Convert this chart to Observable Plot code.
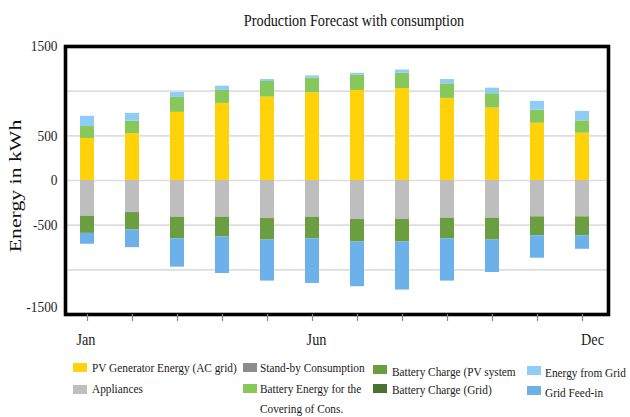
<!DOCTYPE html>
<html>
<head>
<meta charset="utf-8">
<script src="https://cdn.jsdelivr.net/npm/d3@7"></script>
<script src="https://cdn.jsdelivr.net/npm/@observablehq/plot@0.6"></script>
<style>
  html, body { margin: 0; padding: 0; background: #fff; }
  #wrap { position: relative; width: 630px; height: 417px; overflow: hidden; font-family: "Liberation Serif", "Times New Roman", serif; color: #111; }
  #chart { position: absolute; left: 0; top: 0; }
  .abs { position: absolute; white-space: nowrap; }
  .sq { display: inline-block; transform-origin: 0 50%; }
  .sw { position: absolute; width: 14px; height: 9px; }
  .lg { position: absolute; font-size: 13px; line-height: 16px; white-space: nowrap; color: #1a1a1a; }
  .lg span { display: inline-block; transform: scaleX(0.87); transform-origin: 0 50%; }
</style>
</head>
<body>
<div id="wrap">
  <div id="chart"></div>
  <div class="abs" id="title" style="left:354px; top:21px; font-size:16px; line-height:18px; transform: translate(-50%,-50%) scaleX(0.89);">Production Forecast with consumption</div>
  <div class="abs" id="ylabel" style="left:16px; top:186px; font-size:17px; line-height:18px; transform: translate(-50%,-50%) rotate(-90deg) scaleX(1.28);">Energy in kWh</div>
  <div id="legend"></div>
</div>
<script>
// ---- data ----
const months = ["Jan","Feb","Mar","Apr","May","Jun","Jul","Aug","Sep","Oct","Nov","Dec"];
const monthLabels = ["Jan","Jun","Dec"];
const yTickLabels = [1500, 500, 0, -500, -1500];
const yGridValues = [1000, 500, 0, -500, -1000];

const seriesNames = [
  "PV Generator Energy (AC grid)",
  "Appliances",
  "Stand-by Consumption",
  "Battery Energy for the Covering of Cons.",
  "Battery Charge (PV system",
  "Battery Charge (Grid)",
  "Energy from Grid",
  "Grid Feed-in"
];
const seriesColors = ["#FFD20A", "#BEBEBE", "#8C8C8C", "#86C85A", "#6A9E40", "#4A7230", "#8FCDF6", "#6DB1EA"];

const pvGenerator      = [471, 526, 763, 863, 933, 982, 1008, 1030, 919, 811, 641, 530];
const appliances       = [-400, -359, -411, -411, -426, -411, -437, -437, -422, -422, -407, -407];
const standby          = [0, 0, 0, 0, 0, 0, 0, 0, 0, 0, 0, 0];
const batteryCovering  = [133, 137, 167, 145, 175, 166, 170, 170, 163, 160, 145, 137];
const batteryChargePV  = [-192, -196, -241, -222, -241, -241, -252, -252, -230, -245, -211, -211];
const batteryChargeGrid= [0, 0, 0, 0, 0, 0, 0, 0, 0, 0, 0, 0];
const energyFromGrid   = [115, 89, 55, 48, 22, 23, 22, 37, 48, 62, 100, 107];
const gridFeedIn       = [-122, -197, -318, -408, -459, -500, -500, -537, -474, -363, -252, -152];

const seriesValues = [pvGenerator, appliances, standby, batteryCovering, batteryChargePV, batteryChargeGrid, energyFromGrid, gridFeedIn];

// long table for the library
const table = [];
seriesNames.forEach((name, si) => {
  months.forEach((m, mi) => {
    const v = seriesValues[si][mi];
    if (v !== 0) table.push({month: m, series: name, value: v});
  });
});

const plot = Plot.plot({
  width: 630,
  height: 350,
  marginTop: 46,
  marginBottom: 36,
  marginLeft: 65,
  marginRight: 22,
  style: {fontFamily: "'Liberation Serif', 'Times New Roman', serif", color: "#222", background: "transparent"},
  x: {type: "band", domain: months, range: [76.7, 593.3], paddingInner: 0.68, paddingOuter: 0, label: null},
  y: {domain: [-1500, 1500], label: null},
  color: {domain: seriesNames, range: seriesColors},
  marks: [
    Plot.ruleY(yGridValues, {stroke: "#dedede", strokeWidth: 1.6}),
    Plot.barY(table, {x: "month", y: "value", fill: "series"}),
    Plot.frame({stroke: "#000", strokeWidth: 3.6}),
    Plot.axisX({ticks: months, tickSize: 7, stroke: "#888", strokeWidth: 1.2, tickFormat: () => ""}),
    Plot.axisX({ticks: ["Jan"], tickSize: 0, tickPadding: 19, dx: -1.5, fontSize: 16, tickFormat: d => d}),
    Plot.axisX({ticks: ["Jun"], tickSize: 0, tickPadding: 19, dx: 4, fontSize: 16, tickFormat: d => d}),
    Plot.axisX({ticks: ["Dec"], tickSize: 0, tickPadding: 19, dx: 10, fontSize: 16, tickFormat: d => d}),
    Plot.axisY({ticks: yTickLabels.filter(v => v !== -1500), tickSize: 0, tickPadding: 8, fontSize: 15, tickFormat: d => String(d)}),
    Plot.axisY({ticks: [-1500], tickSize: 0, tickPadding: 8, dy: -7, fontSize: 15, tickFormat: d => String(d)})
  ]
});
document.getElementById("chart").appendChild(plot);

// squeeze svg text horizontally to match the narrow serif look
plot.querySelectorAll("text").forEach(t => {
  const len = t.getComputedTextLength();
  if (len > 0) {
    t.setAttribute("textLength", (len * 0.89).toFixed(1));
    t.setAttribute("lengthAdjust", "spacingAndGlyphs");
  }
});

// ---- legend ----
const legendItems = [
  {i: 0, sx: 72.7, sy: 363, tx: 91.7, ty: 368, lines: ["PV Generator Energy (AC grid)"]},
  {i: 1, sx: 72.7, sy: 385, tx: 91.7, ty: 389, lines: ["Appliances"]},
  {i: 2, sx: 243.3, sy: 363, tx: 260, ty: 368, lines: ["Stand-by Consumption"]},
  {i: 3, sx: 243.3, sy: 384, tx: 260, ty: 389, lines: ["Battery Energy for the", "Covering of Cons."]},
  {i: 4, sx: 372.7, sy: 365, tx: 391.7, ty: 372, lines: ["Battery Charge (PV system"]},
  {i: 5, sx: 372.7, sy: 384, tx: 391.7, ty: 390, lines: ["Battery Charge (Grid)"]},
  {i: 6, sx: 526.7, sy: 366, tx: 545, ty: 372.5, lines: ["Energy from Grid"]},
  {i: 7, sx: 526.7, sy: 386, tx: 545, ty: 393, lines: ["Grid Feed-in"]}
];
const lg = document.getElementById("legend");
legendItems.forEach(it => {
  const sw = document.createElement("div");
  sw.className = "sw";
  sw.style.left = it.sx + "px";
  sw.style.top = it.sy + "px";
  sw.style.background = seriesColors[it.i];
  lg.appendChild(sw);
  it.lines.forEach((line, li) => {
    const d = document.createElement("div");
    d.className = "lg";
    d.style.left = it.tx + "px";
    d.style.top = (it.ty - 8 + li * 20) + "px";
    const s = document.createElement("span");
    s.textContent = line;
    d.appendChild(s);
    lg.appendChild(d);
  });
});
</script>
</body>
</html>
